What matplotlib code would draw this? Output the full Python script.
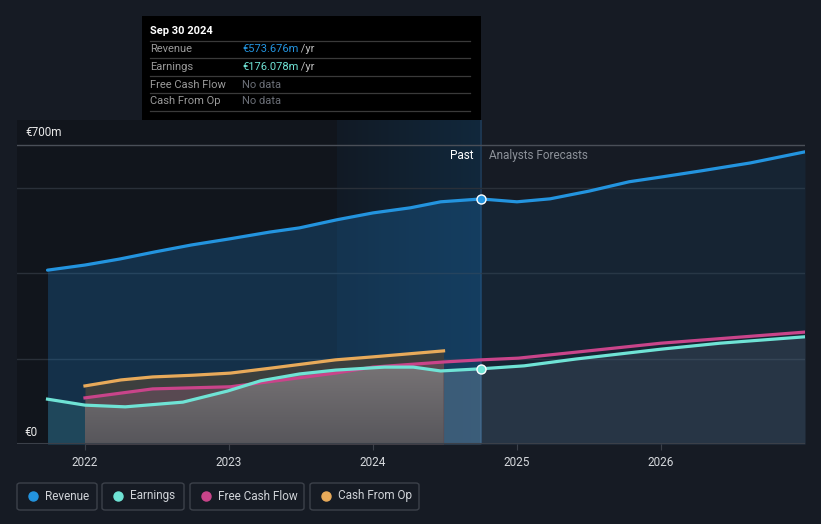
import matplotlib
matplotlib.use("Agg")
import matplotlib.pyplot as plt
import numpy as np
from matplotlib.patches import Rectangle, FancyBboxPatch
from matplotlib.lines import Line2D
from matplotlib.colors import LinearSegmentedColormap

plt.rcParams['font.family'] = ['Roboto', 'DejaVu Sans']

# ---------------- data (EUR m) ----------------
revenue_x = [2021.74, 2022.0, 2022.24, 2022.49, 2022.74, 2023.0, 2023.28, 2023.49, 2023.75,
             2024.0, 2024.26, 2024.47, 2024.75, 2025.0, 2025.23, 2025.5, 2025.78, 2026.0,
             2026.27, 2026.62, 2027.0]
revenue = [407, 419, 433, 450, 466, 480, 496, 506, 525, 541, 553, 567, 573.676, 567, 574,
           592, 614, 625, 639, 658, 684]

earnings_x = [2021.74, 2022.0, 2022.28, 2022.68, 2022.99, 2023.22, 2023.49, 2023.74, 2024.08,
              2024.28, 2024.47, 2024.75, 2025.05, 2025.41, 2026.0, 2026.41, 2027.0]
earnings = [105, 91, 87, 98, 124, 148, 164, 173, 180, 180, 171, 176.078, 183, 199, 222, 236, 251]

fcf_x = [2022.0, 2022.47, 2023.01, 2023.74, 2024.0, 2024.49, 2024.75, 2025.01, 2025.41, 2026.0, 2027.0]
fcf = [108, 129, 134, 166, 180, 192, 197, 201, 215, 236, 262]

cfo_x = [2022.0, 2022.25, 2022.47, 2022.75, 2023.01, 2023.3, 2023.74, 2024.0, 2024.49]
cfo = [136, 150, 157, 161, 166, 178, 197, 204, 218]

year_ticks = [2022, 2023, 2024, 2025, 2026]
year_labels = ["2022", "2023", "2024", "2025", "2026"]
y_labels = ["€0", "€700m"]
gridlines = [200, 400, 600, 700]

today = 2024.75
band_start = 2023.75
cash_end = 2024.49

legend_names = ["Revenue", "Earnings", "Free Cash Flow", "Cash From Op"]
c_rev, c_earn, c_fcf, c_cfo = "#2394df", "#6fe3d5", "#c9448a", "#e8aa5a"
legend_colors = [c_rev, c_earn, c_fcf, c_cfo]

tip_date = "Sep 30 2024"
tip_rows = [("Revenue", "€573.676m", " /yr", c_rev),
            ("Earnings", "€176.078m", " /yr", c_earn),
            ("Free Cash Flow", "No data", "", "#6b6f77"),
            ("Cash From Op", "No data", "", "#6b6f77")]

# ---------------- figure ----------------
W, H = 821, 524
bg = "#161b24"
fig = plt.figure(figsize=(W / 100, H / 100), dpi=100, facecolor=bg)

def fx(px):
    return px / W

def fy(py):
    return 1 - py / H

ax_l, ax_r, ax_b, ax_t = 17, 805, 444, 120
ax = fig.add_axes([fx(ax_l), fy(ax_b), fx(ax_r - ax_l), fy(ax_t) - fy(ax_b)])
ax.set_facecolor(bg)
x0, x1 = 2021.528, 2027.0
ppm = 299 / 700.0
ymax = (ax_b - ax_t) / ppm
ax.set_xlim(x0, x1)
ax.set_ylim(0, ymax)
for s in ax.spines.values():
    s.set_visible(False)

# background regions
ax.axvspan(x0, band_start, color="#10141b", alpha=0.8, lw=0, zorder=0)
grad = np.linspace(0, 1, 256).reshape(1, -1)
cmap = LinearSegmentedColormap.from_list("b", ["#111a25", "#12283c"])
ax.imshow(grad, extent=[band_start, today, 0, ymax], aspect="auto", cmap=cmap, zorder=0.5)
ax.axvline(today, color="#1f3a55", lw=1.2, zorder=1)

for g in gridlines:
    ax.axhline(g, color="#2a3039" if g != 700 else "#4a4f58", lw=1, zorder=1.2)

# revenue fill
rx = np.array(revenue_x); rv = np.array(revenue)
past = rx <= today
ax.fill_between(rx[past], 0, rv[past], color="#1f78c0", alpha=0.28, lw=0, zorder=2)
fut = rx >= today
ax.fill_between(rx[fut], 0, rv[fut], color="#1f78c0", alpha=0.10, lw=0, zorder=2)

# earnings & cash fills
ex = np.array(earnings_x); ev = np.array(earnings)
ax.fill_between(ex[ex <= 2022.0], 0, ev[ex <= 2022.0], color=c_earn, alpha=0.13, lw=0, zorder=2.5)
ax.fill_between(cfo_x, 0, cfo, color="#3c3f3e", alpha=1.0, lw=0, zorder=2.6)
fx_arr = np.array(fcf_x); fv = np.array(fcf)
m = fx_arr <= cash_end
ax.fill_between(fx_arr[m], 0, fv[m], color="#584951", alpha=1.0, lw=0, zorder=2.7)

# past earnings area (grey gradient), clipped to the area under earnings
ex_p = list(ex[(ex >= 2022.0) & (ex <= 2024.47)]) + [cash_end]
ev_p = list(ev[(ex >= 2022.0) & (ex <= 2024.47)]) + [np.interp(cash_end, ex, ev)]
poly = ax.fill_between(ex_p, 0, ev_p, color="none", lw=0, zorder=2.8)
vgrad = np.linspace(1, 0, 256).reshape(-1, 1)
gcmap = LinearSegmentedColormap.from_list("g", ["#57565b", "#787476"])
im = ax.imshow(vgrad, extent=[2022.0, cash_end, 0, 185], aspect="auto", cmap=gcmap,
               zorder=2.8, origin="upper")
im.set_clip_path(poly.get_paths()[0], transform=ax.transData)

ax.fill_between([cash_end, today], 0, [np.interp(cash_end, ex, ev), 176.078],
                color="#ffffff", alpha=0.17, lw=0, zorder=2.8)
m3 = ex >= today
ax.fill_between(ex[m3], 0, ev[m3], color="#8090a8", alpha=0.16, lw=0, zorder=2.8)

# lines
ax.plot(revenue_x, revenue, color=c_rev, lw=2.3, zorder=5, solid_capstyle="round")
ax.plot(cfo_x, cfo, color=c_cfo, lw=2.3, zorder=5)
ax.plot(fcf_x, fcf, color=c_fcf, lw=2.3, zorder=5)
ax.plot(earnings_x, earnings, color=c_earn, lw=2.3, zorder=5.5)

ax.plot([today], [573.676], "o", ms=6.5, mfc=c_rev, mec="white", mew=1.0, zorder=7)
ax.plot([today], [176.078], "o", ms=6.5, mfc=c_earn, mec="white", mew=1.0, zorder=7)

# axis
ax.axhline(0, color="#3b4049", lw=1.5, zorder=6)
ax.set_xticks(year_ticks)
ax.set_xticklabels(year_labels, color="#d5d8dc", fontsize=8.5)
ax.tick_params(axis="x", length=4, color="#3b4049", pad=5)
ax.set_yticks([])

ax.text(today - 0.055, 700 - 11 / ppm, "Past", color="#ffffff", fontsize=8.5,
        ha="right", va="center", zorder=8)
ax.text(today + 0.055, 700 - 11 / ppm, "Analysts Forecasts", color="#8c9199", fontsize=8.5,
        ha="left", va="center", zorder=8)

fig.text(fx(25), fy(132), y_labels[1], color="#e8e8e8", fontsize=8.5, va="center", ha="left")
fig.text(fx(24), fy(432), y_labels[0], color="#e8e8e8", fontsize=8.5, va="center", ha="left")

# tooltip
fig.patches.append(Rectangle((fx(142), fy(120)), fx(481 - 142), fy(16) - fy(120),
                             transform=fig.transFigure, facecolor="#000000", edgecolor="none",
                             zorder=10))
fig.text(fx(150), fy(31), tip_date, color="#ffffff", fontsize=8, fontweight="bold",
         va="center", zorder=11)
sep_y = [41, 58, 76, 93, 111]
for yy in sep_y:
    fig.lines.append(Line2D([fx(150), fx(470)], [fy(yy), fy(yy)], transform=fig.transFigure,
                            color="#3a3a3a", lw=0.9, zorder=11))
row_y = [49.5, 66.5, 84.5, 101.5]
for (lab, val, unit, col), yy in zip(tip_rows, row_y):
    fig.text(fx(150), fy(yy), lab, color="#9a9a9a", fontsize=8, va="center", zorder=11)
    t = fig.text(fx(242), fy(yy), val, color=col, fontsize=8, va="center", zorder=11)
    if unit:
        fig.canvas.draw()
        bb = t.get_window_extent()
        fig.text(bb.x1 / W, fy(yy), unit, color="#bdbdbd", fontsize=8, va="center", zorder=11)

# legend
boxes = [(17, 97), (102, 184), (190, 304), (310, 419)]
for (bl, br), name, col in zip(boxes, legend_names, legend_colors):
    fig.patches.append(FancyBboxPatch((fx(bl), fy(510)), fx(br - bl), fy(483) - fy(510),
                                      boxstyle="round,pad=0,rounding_size=0.004",
                                      transform=fig.transFigure, facecolor="none",
                                      edgecolor="#3c414a", lw=1.0))
    fig.lines.append(Line2D([fx(bl + 16)], [fy(496)], marker="o", ms=6.5, color=col,
                            transform=fig.transFigure, lw=0))
    fig.text(fx(bl + 28), fy(496), name, color="#d0d3d8", fontsize=8.5, va="center")

fig.savefig("out.png", dpi=100, facecolor=bg)
